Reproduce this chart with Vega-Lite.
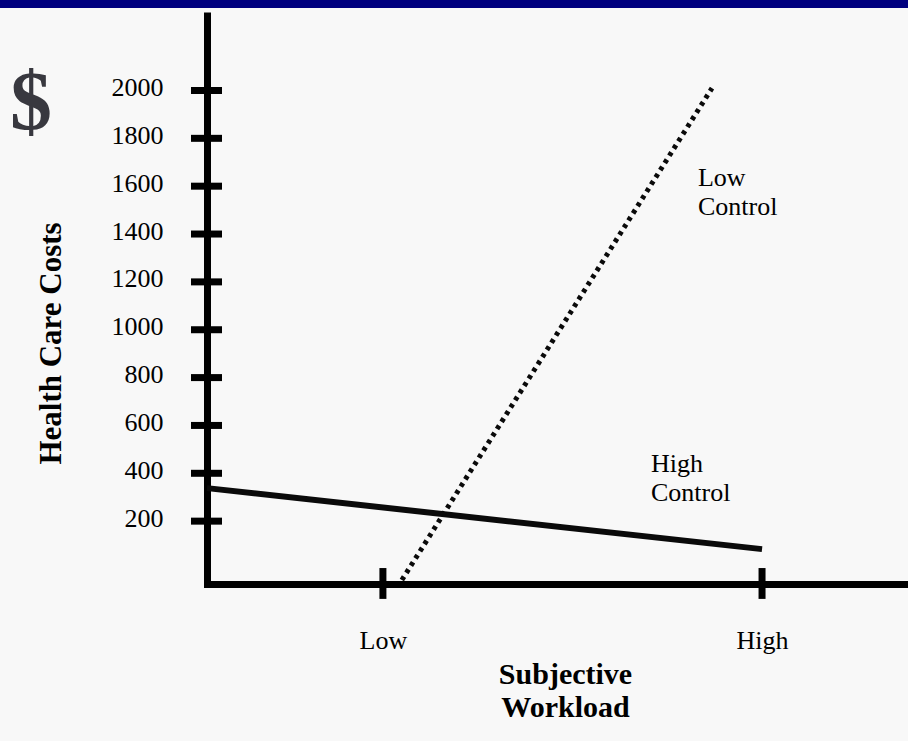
{
  "$schema": "https://vega.github.io/schema/vega-lite/v6.json",
  "width": 701,
  "height": 572,
  "autosize": {"type": "none"},
  "padding": {"left": 207, "top": 12, "right": 0, "bottom": 157},
  "background": "#f8f8f8",
  "config": {"view": {"stroke": null}, "font": "Liberation Serif"},
  "datasets": {
    "lines": [
      {"series": "High Control", "workload": 0.536, "cost": 338},
      {"series": "High Control", "workload": 2.0, "cost": 83},
      {"series": "Low Control", "workload": 1.05, "cost": -46},
      {"series": "Low Control", "workload": 1.868, "cost": 2010}
    ],
    "yticks": [
      {"cost": 200}, {"cost": 400}, {"cost": 600}, {"cost": 800}, {"cost": 1000},
      {"cost": 1200}, {"cost": 1400}, {"cost": 1600}, {"cost": 1800}, {"cost": 2000}
    ],
    "xticks": [{"workload": 1}, {"workload": 2}],
    "labels": [
      {"series": "Low Control", "workload": 1.831, "cost": 1601, "text": "Low\nControl"},
      {"series": "High Control", "workload": 1.707, "cost": 405, "text": "High\nControl"}
    ],
    "dollar": [{"workload": 0.0716, "cost": 1835, "text": "$"}],
    "bar": [{"workload": -0.05, "workload2": 2.4, "cost": 2345, "cost2": 2400}]
  },
  "encoding": {
    "x": {
      "type": "quantitative",
      "scale": {"domain": [0.536, 2.385], "nice": false, "zero": false},
      "axis": {
        "values": [1, 2],
        "labelExpr": "datum.value == 1 ? 'Low' : 'High'",
        "ticks": false,
        "grid": false,
        "domainColor": "#000000",
        "domainWidth": 7,
        "domainCap": "square",
        "labelFont": "Liberation Serif",
        "labelFontSize": 26,
        "labelColor": "#000000",
        "labelPadding": 43,
        "labelFlush": false,
        "title": ["Subjective", "Workload"],
        "titleFont": "Liberation Serif",
        "titleFontWeight": "bold",
        "titleFontSize": 30,
        "titleLineHeight": 33,
        "titleColor": "#000000",
        "titleX": 358,
        "titleY": 75,
        "titleAlign": "center",
        "titleBaseline": "top"
      }
    },
    "y": {
      "type": "quantitative",
      "scale": {"domain": [-62.7, 2328], "nice": false, "zero": false},
      "axis": {
        "values": [200, 400, 600, 800, 1000, 1200, 1400, 1600, 1800, 2000],
        "format": "d",
        "ticks": false,
        "grid": false,
        "domainColor": "#000000",
        "domainWidth": 7,
        "labelFont": "Liberation Serif",
        "labelFontSize": 26,
        "labelColor": "#000000",
        "labelPadding": 44,
        "labelOffset": -3,
        "labelFlush": false,
        "title": "Health Care Costs",
        "titleFont": "Liberation Serif",
        "titleFontWeight": "bold",
        "titleFontSize": 31,
        "titleColor": "#000000",
        "titleX": -156,
        "titleY": 331,
        "titleAlign": "center",
        "titleBaseline": "middle"
      }
    }
  },
  "layer": [
    {
      "data": {"name": "bar"},
      "mark": {"type": "rect", "color": "#00007f", "clip": false},
      "encoding": {
        "x": {"field": "workload"},
        "x2": {"field": "workload2"},
        "y": {"field": "cost"},
        "y2": {"field": "cost2"}
      }
    },
    {
      "data": {"name": "lines"},
      "transform": [{"filter": "datum.series == 'High Control'"}],
      "mark": {"type": "line", "color": "#0a0a0a", "strokeWidth": 6, "clip": false},
      "encoding": {
        "x": {"field": "workload"},
        "y": {"field": "cost"}
      }
    },
    {
      "data": {"name": "lines"},
      "transform": [{"filter": "datum.series == 'Low Control'"}],
      "mark": {"type": "line", "color": "#0a0a0a", "strokeWidth": 5, "strokeDash": [4, 4.5], "strokeCap": "butt", "clip": false},
      "encoding": {
        "x": {"field": "workload"},
        "y": {"field": "cost"}
      }
    },
    {
      "data": {"name": "yticks"},
      "mark": {"type": "rule", "color": "#000000", "strokeWidth": 7, "clip": false},
      "encoding": {
        "x": {"datum": 0.4938},
        "x2": {"datum": 0.5756},
        "y": {"field": "cost"}
      }
    },
    {
      "data": {"name": "xticks"},
      "mark": {"type": "rule", "color": "#000000", "strokeWidth": 7, "clip": false},
      "encoding": {
        "x": {"field": "workload"},
        "y": {"datum": 4},
        "y2": {"datum": -125}
      }
    },
    {
      "data": {"name": "labels"},
      "mark": {"type": "text", "align": "left", "baseline": "alphabetic", "font": "Liberation Serif", "fontSize": 26, "lineHeight": 29, "lineBreak": "\n", "color": "#000000", "clip": false},
      "encoding": {
        "x": {"field": "workload"},
        "y": {"field": "cost"},
        "text": {"field": "text"}
      }
    },
    {
      "data": {"name": "dollar"},
      "mark": {"type": "text", "align": "center", "baseline": "alphabetic", "font": "Liberation Serif", "fontSize": 84, "fontWeight": "bold", "color": "#38383f", "clip": false},
      "encoding": {
        "x": {"field": "workload"},
        "y": {"field": "cost"},
        "text": {"field": "text"}
      }
    }
  ]
}
